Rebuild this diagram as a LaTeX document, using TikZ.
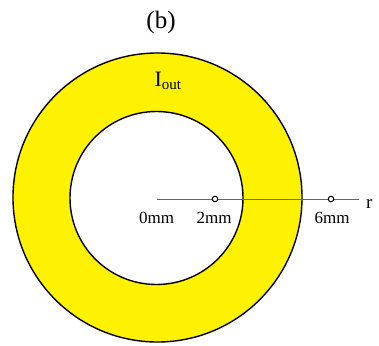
\documentclass[tikz,border=0pt]{standalone}
\usepackage{fontspec}
\setmainfont{Liberation Serif}
\begin{document}
\begin{tikzpicture}[x=1pt,y=-1pt,
  ring/.style={draw=black,line width=1.4pt},
  axis/.style={draw=black!60,line width=1pt},
  tick/.style={circle,draw=black,fill=white,line width=1pt,inner sep=0pt,minimum size=5.5pt},
  lbl/.style={font=\fontsize{17}{20}\selectfont,inner sep=0pt,anchor=base}]
\useasboundingbox (0,0) rectangle (379,345);
\fill[yellow,even odd rule] (157.5,197.5) circle[radius=144.5] (156.5,198) circle[radius=86.5];
\draw[ring] (157.5,197.5) circle[radius=144.5];
\draw[ring] (156.5,198) circle[radius=86.5];
\coordinate (o) at (157,199);
\coordinate (e) at (359,199);
\draw[axis] (o) -- (e);
\node[tick] (t2) at (215,199) {};
\node[tick] (t6) at (331,199) {};
\node[lbl] (l0) at (156.5,223) {0mm};
\node[lbl] (l2) at (214,223) {2mm};
\node[lbl] (l6) at (332,223) {6mm};
\node[lbl,anchor=west,font=\fontsize{19}{22}\selectfont] (r) at (366,204) {r};
\node[font=\fontsize{25}{28}\selectfont,inner sep=0pt] (b) at (161,22) {(b)};
\node[font=\fontsize{22}{24}\selectfont,inner sep=0pt,anchor=base] (iout) at (168,86) {I\textsubscript{\fontsize{15}{16}\selectfont out}};
\end{tikzpicture}
\end{document}
